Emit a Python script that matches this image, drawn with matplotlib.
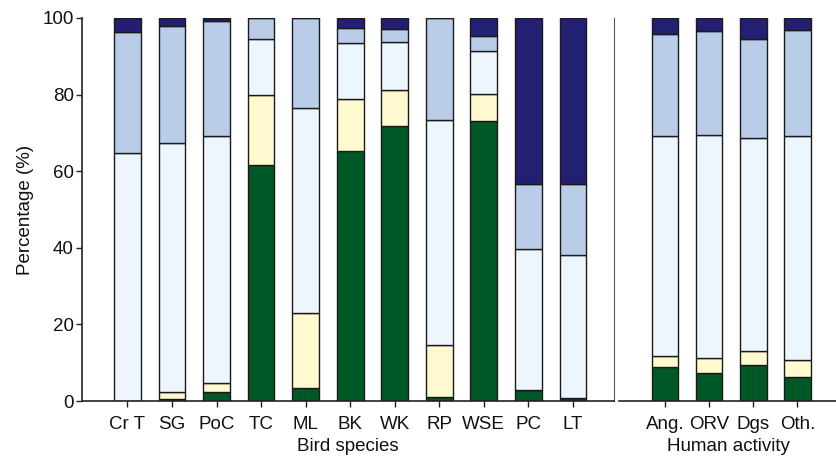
import matplotlib
matplotlib.use("Agg")
import matplotlib.pyplot as plt
import numpy as np

plt.rcParams['font.family'] = ['Liberation Sans', 'DejaVu Sans']
plt.rcParams['font.size'] = 13.5

# bird species (left panel)
species = ['Cr T', 'SG', 'PoC', 'TC', 'ML', 'BK', 'WK', 'RP', 'WSE', 'PC', 'LT']
sp_green = [0.0, 0.5, 2.3, 61.6, 3.5, 65.4, 71.8, 1.0, 73.0, 3.0, 0.7]
sp_yellow = [0.0, 1.9, 2.3, 18.3, 19.6, 13.5, 9.4, 13.7, 7.2, 0.0, 0.0]
sp_vlight = [64.8, 65.0, 64.6, 14.7, 53.3, 14.5, 12.4, 58.7, 11.3, 36.6, 37.3]
sp_light = [31.5, 30.5, 30.1, 5.4, 23.6, 4.0, 3.4, 26.6, 3.9, 17.1, 18.7]
sp_navy = [3.7, 2.1, 0.7, 0.0, 0.4, 2.6, 3.0, 0.0, 4.6, 43.3, 43.3]

# human activity (right panel)
activity = ['Ang.', 'ORV', 'Dgs', 'Oth.']
ha_green = [9.0, 7.2, 9.4, 6.3]
ha_yellow = [2.7, 4.1, 3.7, 4.4]
ha_vlight = [57.5, 58.2, 55.7, 58.5]
ha_light = [26.6, 27.0, 25.8, 27.7]
ha_navy = [4.2, 3.5, 5.4, 3.1]

colors = ['#005826', '#fff9cf', '#eef6fd', '#b9cde8', '#231f72']


def stack(ax, labels, series):
    x = np.arange(len(labels))
    bottom = np.zeros(len(labels))
    for vals, c in zip(series, colors):
        ax.bar(x, vals, 0.6, bottom=bottom, color=c, edgecolor='#1a1a1a', linewidth=1.0)
        bottom += np.array(vals)
    ax.set_xticks(x)
    ax.set_xticklabels(labels)
    ax.set_ylim(0, 100)
    ax.tick_params(direction='out', length=4.5, width=1, colors='#222222',
                   labelcolor='#111111', labelsize=13.5)
    ax.tick_params(axis='x', pad=6.5)
    ax.tick_params(axis='y', pad=1.5)


fig = plt.figure(figsize=(8.37, 4.61), dpi=100)
ax1 = fig.add_axes([0.098, 0.130, 0.636, 0.831])
ax2 = fig.add_axes([0.7395, 0.130, 0.2605, 0.831])

stack(ax1, species, [sp_green, sp_yellow, sp_vlight, sp_light, sp_navy])
stack(ax2, activity, [ha_green, ha_yellow, ha_vlight, ha_light, ha_navy])

ax1.set_xlim(-1.02, 10.93)
ax2.set_xlim(-1.05, 3.9)

ax1.set_yticks([0, 20, 40, 60, 80, 100])
ax1.set_ylabel('Percentage (%)', labelpad=6, fontsize=13.5, color='#111111')
ax1.set_xlabel('Bird species', labelpad=3, fontsize=13.5, color='#111111')
ax2.set_xlabel('Human activity', labelpad=3, fontsize=13.5, color='#111111')

ax1.spines['top'].set_visible(False)
ax1.spines['right'].set_color('#555555')
for s in ['left', 'bottom']:
    ax1.spines[s].set_linewidth(1.2)
    ax1.spines[s].set_color('#222222')

for s in ['top', 'right', 'left']:
    ax2.spines[s].set_visible(False)
ax2.spines['bottom'].set_linewidth(1.2)
ax2.spines['bottom'].set_color('#222222')
ax2.set_yticks([])

fig.savefig('out.png', dpi=100)
